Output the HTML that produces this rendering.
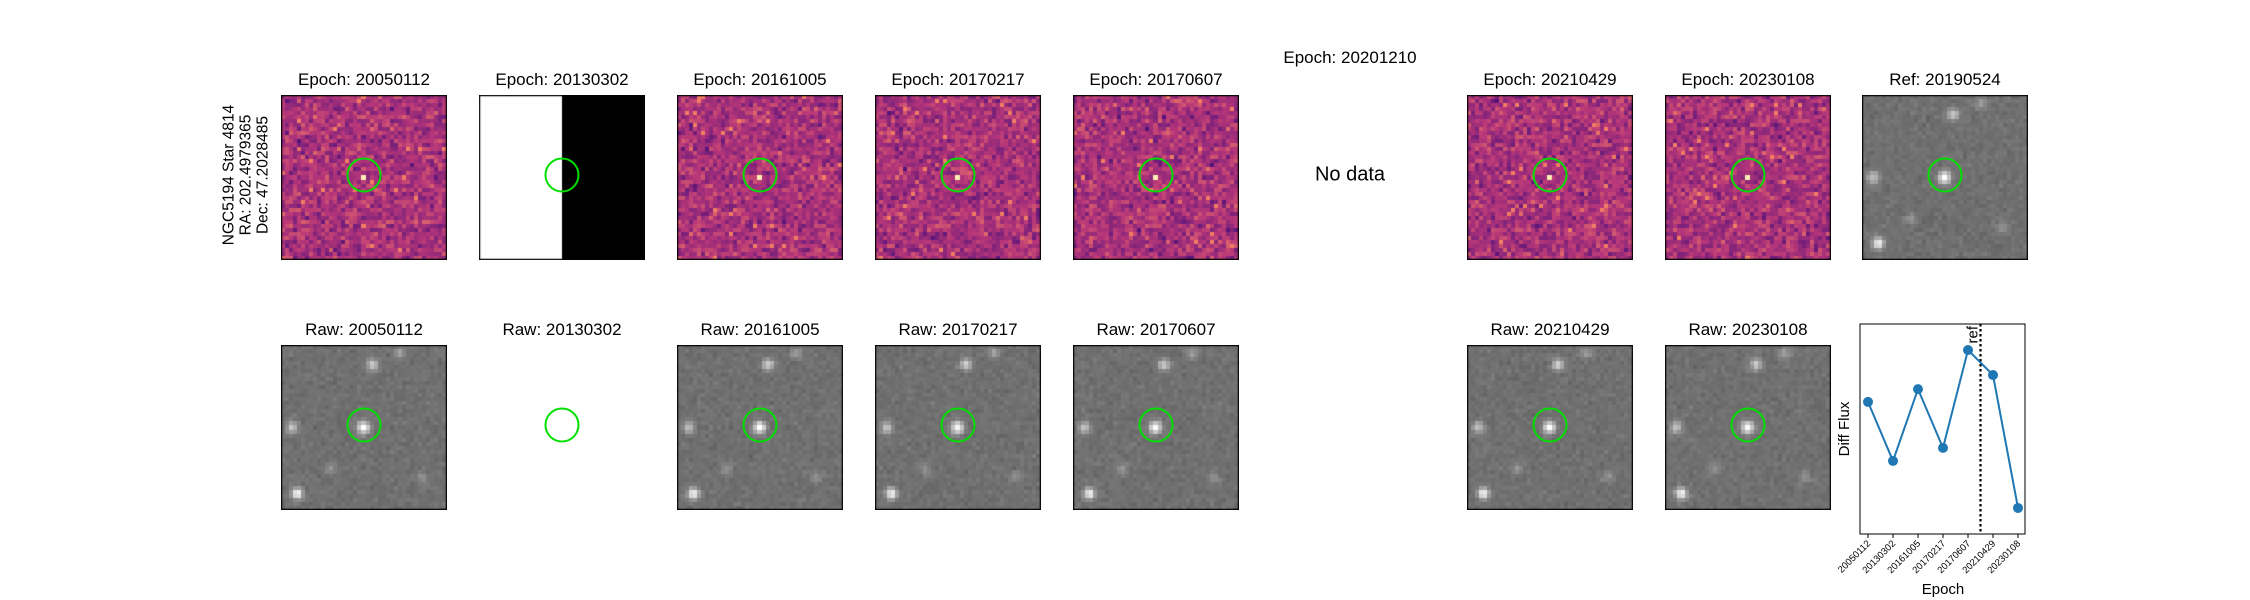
<!DOCTYPE html>
<html><head><meta charset="utf-8">
<style>
body{margin:0;background:#fff;}
#root{position:relative;width:2250px;height:600px;overflow:hidden;font-family:"Liberation Sans","DejaVu Sans",sans-serif;color:#000;}
.t{position:absolute;font-size:17px;white-space:nowrap;transform:translate(-50%,-50%);}
canvas{position:absolute;}
</style></head><body>
<div id="root">
<div class="t" style="left:246px;top:175px;transform:translate(-50%,-50%) rotate(-90deg);text-align:center;line-height:17px;font-size:15.5px">NGC5194 Star 4814<br>RA: 202.4979365<br>Dec: 47.2028485</div>
<div class="t" style="left:1350px;top:58px">Epoch: 20201210</div>
<div class="t" style="left:1350px;top:175px;font-size:20px">No data</div>
<svg id="lc" width="2250" height="600" style="position:absolute;left:0;top:0"></svg>
</div>
<script>
const epochs=["20050112","20130302","20161005","20170217","20170607","20201210","20210429","20230108"];
const lcEpochs=["20050112","20130302","20161005","20170217","20170607","20210429","20230108"];
const lcFlux=[0.629,0.348,0.690,0.410,0.876,0.757,0.124];
const refIndex=4.5;
const root=document.getElementById('root');
let seed=7;function rnd(){seed=(seed*16807)%2147483647;return seed/2147483647;}
function gauss(){let s=0;for(let i=0;i<4;i++)s+=rnd();return (s-2)/0.58;}
const magma=[[0,0,4],[80,18,123],[182,54,121],[251,136,97],[252,253,191]];
function mag(v){v=Math.max(0,Math.min(1,v));const p=v*4,i=Math.min(3,Math.floor(p)),f=p-i;const a=magma[i],b=magma[i+1];return a.map((c,k)=>Math.round(c+(b[k]-c)*f));}
const stars=[[0.5,0.5,1],[0.55,0.12,0.7],[0.07,0.5,0.6],[0.1,0.9,1.0],[0.72,0.05,0.35],[0.3,0.75,0.25],[0.85,0.8,0.25]];
function addPanel(x,y,type,title,nm){
 const t=document.createElement('div');t.className='t';t.style.left=(x+83)+'px';t.style.top=(y-15)+'px';t.textContent=title;
 
 
 root.appendChild(t);
 if(type!=='empty'){
 const c=document.createElement('canvas');c.width=166;c.height=165;c.style.left=x+'px';c.style.top=y+'px';
 
 
 root.appendChild(c);const g=c.getContext('2d');
 const N=41,s=166/N;
 if(type==='split'){g.fillStyle='#fff';g.fillRect(0,0,83,165);g.fillStyle='#000';g.fillRect(83,0,83,165);}
 else for(let i=0;i<N;i++)for(let j=0;j<N;j++){
  if(type==='diff'){let v=0.47+0.07*gauss();if(i===20&&j===20)v=0.97;if(rnd()<0.012)v=0.72;const col=mag(v);g.fillStyle=`rgb(${col})`;}
  else{let v=112+5*gauss();for(const st of stars){const dx=(i+0.5)/N-st[0],dy=(j+0.5)/N-st[1];v+=140*st[2]*Math.exp(-(dx*dx+dy*dy)/0.0012);}v=Math.min(255,Math.round(v));g.fillStyle=`rgb(${v},${v},${v})`;}
  g.fillRect(Math.floor(i*s),Math.floor(j*s),Math.ceil(s),Math.ceil(s));
 }
 g.strokeStyle='#000';g.lineWidth=1.2;g.strokeRect(0.6,0.6,164.8,163.8);
 }
 const sv=document.createElementNS('http://www.w3.org/2000/svg','svg');sv.setAttribute('width',166);sv.setAttribute('height',165);sv.style.cssText=`position:absolute;left:${x}px;top:${y}px`;
 sv.innerHTML='<circle cx="83" cy="80" r="16.5" fill="none" stroke="#00e000" stroke-width="2"/>';
 
 
 root.appendChild(sv);
}
const xs=[281,479,677,875,1073,1271,1467,1665];
epochs.forEach((e,k)=>{
 if(e==='20201210')return;
 addPanel(xs[k],95,e==='20130302'?'split':'diff','Epoch: '+e,'diff-'+e);
 addPanel(xs[k],345,e==='20130302'?'empty':'raw','Raw: '+e,'raw-'+e);
});
addPanel(1862,95,'raw','Ref: 20190524','ref-20190524');
// lightcurve
const L=1860,R=2025,T=324,B=534;
const xS=i=>1868+i*25, yS=v=>B-v*(B-T);
const svg=document.getElementById('lc');let h='';
h+=`<line x1="${xS(refIndex)}" y1="${T}" x2="${xS(refIndex)}" y2="${B}" stroke="#000" stroke-width="2.2" stroke-dasharray="2.5,2.5"/>`;
h+=`<text x="${xS(refIndex)-3}" y="${T+2}" font-size="15" transform="rotate(-90 ${xS(refIndex)-3} ${T+2})" text-anchor="end">ref</text>`;
h+=`<polyline fill="none" stroke="#1f77b4" stroke-width="2" points="${lcFlux.map((v,i)=>xS(i)+','+yS(v)).join(' ')}"/>`;
lcFlux.forEach((v,i)=>{h+=`<circle cx="${xS(i)}" cy="${yS(v)}" r="5" fill="#1f77b4"/>`;});
h+=`<rect x="${L}" y="${T}" width="${R-L}" height="${B-T}" fill="none" stroke="#000" stroke-width="1"/>`;
lcEpochs.forEach((e,i)=>{h+=`<line x1="${xS(i)}" y1="${B}" x2="${xS(i)}" y2="${B+4}" stroke="#000"/><text x="${xS(i)+3}" y="${B+10}" font-size="9.5" text-anchor="end" transform="rotate(-45 ${xS(i)+3} ${B+10})">${e}</text>`;});
h+=`<text x="1943" y="594" font-size="15" text-anchor="middle">Epoch</text>`;
h+=`<text x="1849" y="429" font-size="15" text-anchor="middle" transform="rotate(-90 1849 429)">Diff Flux</text>`;
svg.innerHTML=h;
</script>
</body></html>
